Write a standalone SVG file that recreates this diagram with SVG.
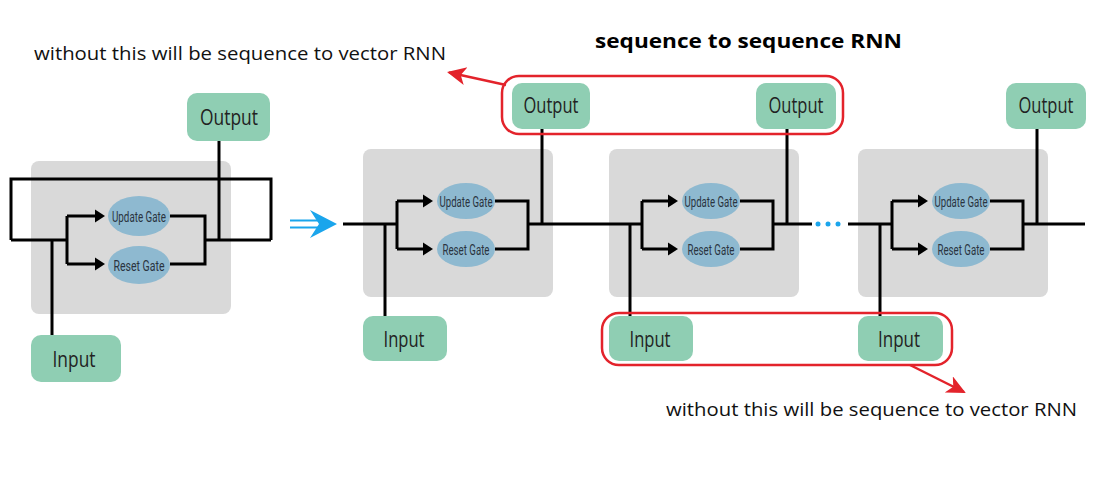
<svg xmlns="http://www.w3.org/2000/svg" width="1096" height="492" viewBox="0 0 1096 492">
<defs>
<style>
.cellbg{fill:#d9d9d9}
.node{fill:#8fceb3}
.gate{fill:#8eb9d0}
.wire{stroke:#000;stroke-width:3;fill:none}
.lbl{font-family:"Open Sans","Noto Sans",sans-serif;font-size:21px;fill:#222;text-anchor:middle}
.glbl{font-family:Roboto,"Noto Sans",sans-serif;font-size:15px;fill:#2a3440;text-anchor:middle}
.note{font-family:"Open Sans","Noto Sans",sans-serif;font-size:19px;fill:#111}
.title{font-family:"Open Sans","Noto Sans",sans-serif;font-size:19px;font-weight:bold;fill:#000}
.red{stroke:#e3232b;stroke-width:2.5;fill:none}
.dot{fill:#1aa5ec}
</style>
<path id="ah" d="M0,-6.5 L10,0 L0,6.5 Z" fill="#000"/>
<marker id="rh" markerWidth="22" markerHeight="20" refX="17" refY="9" orient="auto" markerUnits="userSpaceOnUse">
<path d="M0,0 L19,9 L0,18 L5,9 Z" fill="#e3232b"/>
</marker>
</defs>
<rect width="1096" height="492" fill="#fff"/>

<g id="cell-left"><rect class="cellbg" x="31" y="161" width="200" height="153" rx="8"/></g>
<g id="cell-1"><rect class="cellbg" x="363" y="149" width="190" height="148" rx="8"/></g>
<g id="cell-2"><rect class="cellbg" x="609" y="149" width="190" height="148" rx="8"/></g>
<g id="cell-3"><rect class="cellbg" x="858" y="149" width="190" height="148" rx="8"/></g>

<g id="connectors">
<!-- left folded cell -->
<path class="wire" d="M11,240 V179 H271 V240"/>
<path class="wire" d="M11,240 H67 M205,240 H271"/>
<path class="wire" d="M52,240 V335"/>
<path class="wire" d="M67,216 V264 M67,216 H96 M67,264 H96"/>
<use href="#ah" x="95" y="216"/><use href="#ah" x="95" y="264"/>
<path class="wire" d="M170,216 H205 V264 H170"/>
<path class="wire" d="M219,141 V240"/>
<!-- cell 1 -->
<path class="wire" d="M343,224 H397"/>
<path class="wire" d="M385,224 V316"/>
<path class="wire" d="M397,201 V249 M397,201 H424 M397,249 H424"/>
<use href="#ah" x="423" y="201"/><use href="#ah" x="423" y="249"/>
<path class="wire" d="M495,201 H528 V249 H495"/>
<path class="wire" d="M528,224 H642"/>
<path class="wire" d="M542,129 V224"/>
<!-- cell 2 -->
<path class="wire" d="M630,224 V316"/>
<path class="wire" d="M642,201 V249 M642,201 H669 M642,249 H669"/>
<use href="#ah" x="668" y="201"/><use href="#ah" x="668" y="249"/>
<path class="wire" d="M740,201 H773 V249 H740"/>
<path class="wire" d="M773,224 H812"/>
<path class="wire" d="M787,129 V224"/>
<!-- cell 3 -->
<path class="wire" d="M848,224 H892"/>
<path class="wire" d="M880,224 V316"/>
<path class="wire" d="M892,201 V249 M892,201 H919 M892,249 H919"/>
<use href="#ah" x="918" y="201"/><use href="#ah" x="918" y="249"/>
<path class="wire" d="M990,201 H1023 V249 H990"/>
<path class="wire" d="M1023,224 H1085"/>
<path class="wire" d="M1037,129 V224"/>
<!-- dots -->
<circle class="dot" cx="818" cy="224" r="2.5"/>
<circle class="dot" cx="828" cy="224" r="2.5"/>
<circle class="dot" cx="838" cy="224" r="2.5"/>
<!-- blue unroll arrow -->
<path d="M290,220.5 H318 M290,227.5 H318" stroke="#1aa5ec" stroke-width="2" fill="none"/>
<path d="M310,210 L337,224 L310,238 L319,224 Z" fill="#1aa5ec"/>
<!-- red annotation arrows -->
<path class="red" d="M506,85 L449,72.5" marker-end="url(#rh)"/>
<path class="red" d="M910,365 L964,392" marker-end="url(#rh)"/>
</g>

<!-- gates -->
<g id="left-update"><ellipse class="gate" cx="139" cy="216" rx="31" ry="20"/><text class="glbl" x="139" y="221.5" textLength="54" lengthAdjust="spacingAndGlyphs">Update Gate</text></g>
<g id="left-reset"><ellipse class="gate" cx="139" cy="265" rx="31" ry="19"/><text class="glbl" x="139" y="270.5" textLength="51" lengthAdjust="spacingAndGlyphs">Reset Gate</text></g>
<g id="c1-update"><ellipse class="gate" cx="466" cy="201" rx="29" ry="18"/><text class="glbl" x="466" y="206.5" textLength="53" lengthAdjust="spacingAndGlyphs">Update Gate</text></g>
<g id="c1-reset"><ellipse class="gate" cx="466" cy="249" rx="29" ry="18"/><text class="glbl" x="466" y="254.5" textLength="47" lengthAdjust="spacingAndGlyphs">Reset Gate</text></g>
<g id="c2-update"><ellipse class="gate" cx="711" cy="201" rx="29" ry="18"/><text class="glbl" x="711" y="206.5" textLength="53" lengthAdjust="spacingAndGlyphs">Update Gate</text></g>
<g id="c2-reset"><ellipse class="gate" cx="711" cy="249" rx="29" ry="18"/><text class="glbl" x="711" y="254.5" textLength="47" lengthAdjust="spacingAndGlyphs">Reset Gate</text></g>
<g id="c3-update"><ellipse class="gate" cx="961" cy="201" rx="29" ry="18"/><text class="glbl" x="961" y="206.5" textLength="53" lengthAdjust="spacingAndGlyphs">Update Gate</text></g>
<g id="c3-reset"><ellipse class="gate" cx="961" cy="249" rx="29" ry="18"/><text class="glbl" x="961" y="254.5" textLength="47" lengthAdjust="spacingAndGlyphs">Reset Gate</text></g>

<!-- inputs / outputs -->
<g id="left-output"><rect class="node" x="187" y="93" width="83" height="48" rx="10"/><text class="lbl" x="229" y="125" textLength="58" lengthAdjust="spacingAndGlyphs">Output</text></g>
<g id="left-input"><rect class="node" x="31" y="335" width="90" height="47" rx="10"/><text class="lbl" x="74" y="367" textLength="43" lengthAdjust="spacingAndGlyphs">Input</text></g>
<g id="c1-output"><rect class="node" x="512" y="83" width="78" height="46" rx="10"/><text class="lbl" x="551" y="113" textLength="55" lengthAdjust="spacingAndGlyphs">Output</text></g>
<g id="c1-input"><rect class="node" x="363" y="316" width="84" height="45" rx="10"/><text class="lbl" x="404" y="347" textLength="41" lengthAdjust="spacingAndGlyphs">Input</text></g>
<g id="c2-output"><rect class="node" x="756" y="83" width="80" height="46" rx="10"/><text class="lbl" x="796" y="113" textLength="55" lengthAdjust="spacingAndGlyphs">Output</text></g>
<g id="c2-input"><rect class="node" x="609" y="316" width="84" height="45" rx="10"/><text class="lbl" x="650" y="347" textLength="41" lengthAdjust="spacingAndGlyphs">Input</text></g>
<g id="c3-output"><rect class="node" x="1006" y="83" width="80" height="46" rx="10"/><text class="lbl" x="1046" y="113" textLength="55" lengthAdjust="spacingAndGlyphs">Output</text></g>
<g id="c3-input"><rect class="node" x="858" y="316" width="85" height="45" rx="10"/><text class="lbl" x="899" y="347" textLength="42" lengthAdjust="spacingAndGlyphs">Input</text></g>

<!-- red highlight boxes -->
<g id="highlight-outputs"><rect class="red" x="502" y="76" width="341" height="58" rx="17"/></g>
<g id="highlight-inputs"><rect class="red" x="602" y="313" width="350" height="52" rx="17"/></g>

<!-- texts -->
<g id="title"><text class="title" x="595" y="48" textLength="307" lengthAdjust="spacingAndGlyphs">sequence to sequence RNN</text></g>
<g id="note-top"><text class="note" x="34" y="60" textLength="412" lengthAdjust="spacingAndGlyphs">without this will be sequence to vector RNN</text></g>
<g id="note-bottom"><text class="note" x="666" y="416" textLength="411" lengthAdjust="spacingAndGlyphs">without this will be sequence to vector RNN</text></g>
</svg>
